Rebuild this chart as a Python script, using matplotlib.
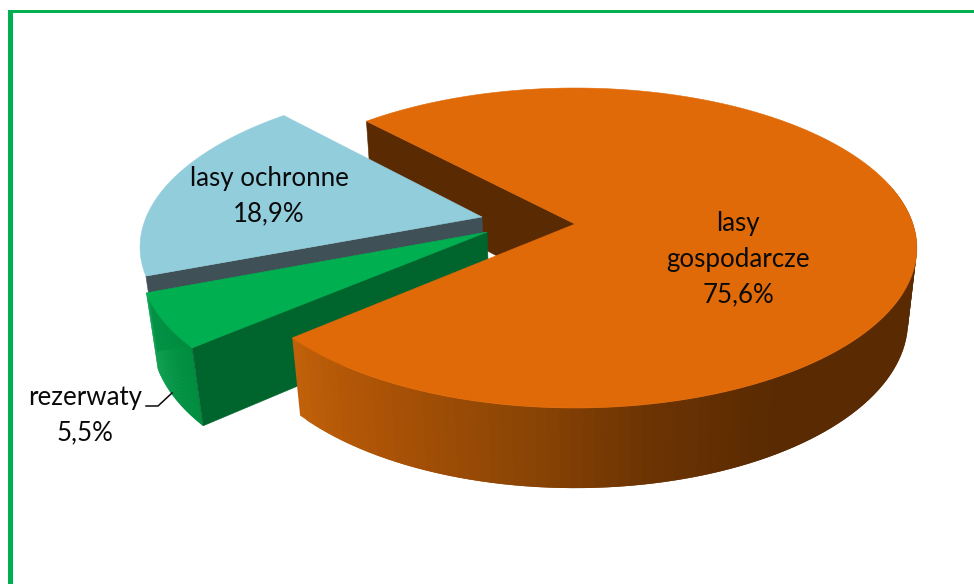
import numpy as np
from matplotlib import pyplot as plt
from matplotlib.collections import PolyCollection
from matplotlib.patches import Polygon, Rectangle

labels = ["lasy\ngospodarcze\n75,6%", "lasy ochronne\n18,9%", "rezerwaty\n5,5%"]
values = [75.6, 18.9, 5.5]
top_colors = ["#E16A08", "#92CDDC", "#00B050"]
face_colors = ["#5A2A02", "#3F5157", "#00642D"]
frame_color = "#00B050"

# pie camera, in pixels of the 974x584 picture
CX, CY = 575, 224
RX, RY = 338, 156.4
PERSP = 0.15
SINK = 0.026
DEPTH = 75
START = 133.2

# how far the two small slices are pulled out of the pie
offsets = [(0, 0), (-0.277, 0.045), (-0.258, -0.051)]


def project(x, y, d=0.0):
    w = 1 + PERSP * y + SINK * d
    return CX + RX * x / w, CY - (RY * y - DEPTH * d) / w


def rim(offset, t, d=0.0):
    r = np.radians(t)
    return project(offset[0] + np.cos(r), offset[1] + np.sin(r), d)


def face(offset, t, color, zorder):
    # flat cut wall from the centre of the slice out to the rim
    corners = [project(offset[0], offset[1]), project(offset[0], offset[1], 1), rim(offset, t, 1), rim(offset, t)]
    ax.add_patch(Polygon(corners, fc=color, ec=color, lw=0.4, zorder=zorder))


def wall(offset, t0, t1, stops_t, stops_c, zorder):
    ts = np.linspace(t0, t1, 90)
    upper = np.column_stack(rim(offset, ts))
    lower = np.column_stack(rim(offset, ts, 1))
    # each facet overlaps the next one so no white shows between them
    polys = [[upper[i], upper[i + 2], lower[i + 2], lower[i]] for i in range(len(ts) - 2)]
    stops_c = np.array(stops_c) / 255
    cols = np.column_stack([np.interp(ts[:-2], stops_t, stops_c[:, k]) for k in range(3)])
    ax.add_collection(PolyCollection(polys, facecolors=cols, edgecolors="none", zorder=zorder))


def top(offset, t0, t1, color, zorder):
    ts = np.linspace(t0, t1, 200)
    pts = np.vstack([project(offset[0], offset[1]), np.column_stack(rim(offset, ts))])
    ax.add_patch(Polygon(pts, fc=color, ec=color, lw=0.4, zorder=zorder))


spans = np.array(values) / sum(values) * 360

fig = plt.figure(figsize=(9.74, 5.84), dpi=100)
ax = fig.add_axes([0, 0, 1, 1])
ax.set_xlim(0, 974)
ax.set_ylim(584, 0)
ax.axis("off")

# angles: big slice runs clockwise from START, the two others counter-clockwise
big_end = START + 360 - spans[0]
blue_end = START + spans[1]
green_end = blue_end + spans[2]

face(offsets[0], START, face_colors[0], 1)

face(offsets[1], blue_end, face_colors[1], 2)
top(offsets[1], START, blue_end, top_colors[1], 3)

wall(offsets[2], blue_end, green_end, [blue_end, green_end], [(0, 154, 72), (0, 140, 62)], 4)
face(offsets[2], green_end, face_colors[2], 4)
top(offsets[2], blue_end, green_end, top_colors[2], 5)

wall(offsets[0], big_end, 375,
     [big_end, 240, 260, 280, 300],
     [(192, 96, 10), (170, 82, 6), (142, 70, 5), (108, 52, 3), (90, 42, 2)], 6)
top(offsets[0], big_end, START + 360, top_colors[0], 7)

font = ["Lato", "DejaVu Sans"]
text_style = dict(ha="center", va="center", fontsize=18.6, family=font, linespacing=1.52, color="#0A0A0A", zorder=9)
ax.text(738, 259, labels[0], **text_style)
ax.text(269, 196, labels[1], **text_style)
ax.text(85, 415, labels[2], **text_style)
ax.plot([146, 158, 172], [406, 406, 393], color="#0A0A0A", lw=1.1, zorder=8)

ax.add_patch(Rectangle((8, 10), 5, 574, fc=frame_color, lw=0))
ax.add_patch(Rectangle((8, 10), 966, 3, fc=frame_color, lw=0))

fig.savefig("out.png", dpi=100)
